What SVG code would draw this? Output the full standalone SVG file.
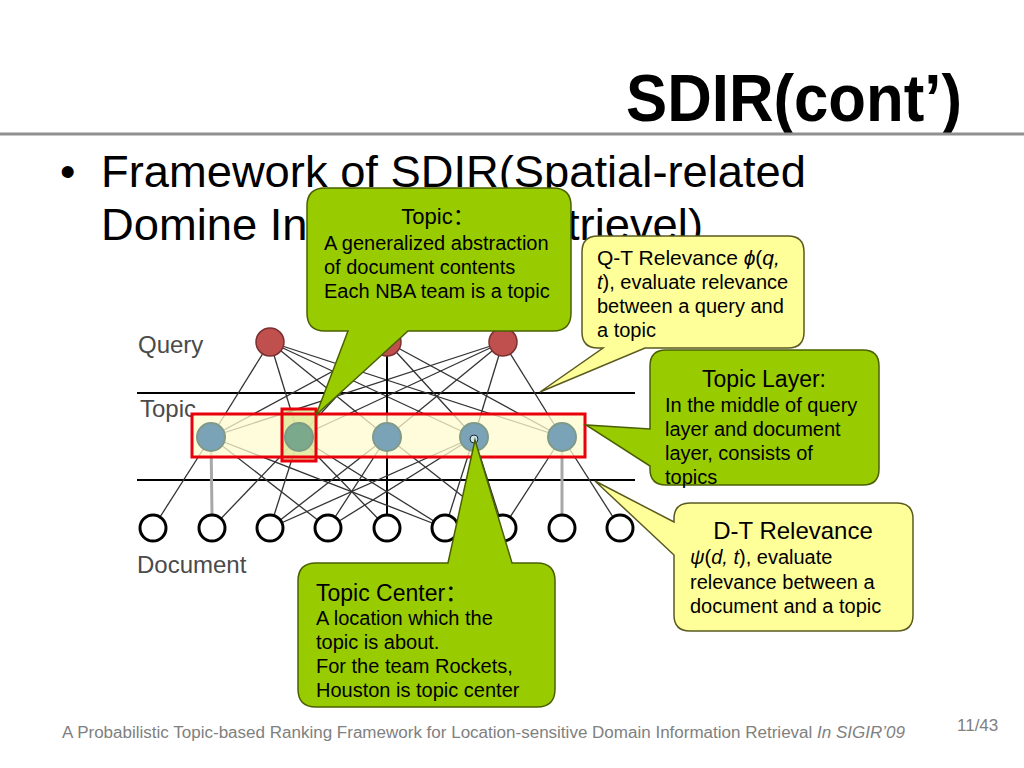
<svg xmlns="http://www.w3.org/2000/svg" width="1024" height="768" viewBox="0 0 1024 768">
<style>
text{font-family:"Liberation Sans","Noto Sans CJK SC",Arial,sans-serif;fill:#000}
.body{font-size:20px}
.lbl{font-size:24px;fill:#4a4a4a}
.e{stroke:#333;stroke-width:1.3;fill:none}
.g{stroke:#a8a8a8;stroke-width:3;fill:none}
.q{fill:#c0504d;stroke:#7a3030;stroke-width:1.5}
.t{fill:#7ba3b8;stroke:#7f9a88;stroke-width:2}
.d{fill:#fff;stroke:#000;stroke-width:3}
.green{fill:#99cc00;stroke:#4a6000;stroke-width:1.5}
.yellow{fill:#ffff99;stroke:#5a5a20;stroke-width:1.5}
.foot{font-size:16px;fill:#808080}
</style>
<rect width="1024" height="768" fill="#fff"/>

<g id="title">
<text x="962" y="121" font-size="66" font-weight="bold" text-anchor="end" textLength="336" lengthAdjust="spacingAndGlyphs">SDIR(cont’)</text>
<line x1="0" y1="134" x2="1024" y2="134" stroke="#909090" stroke-width="3"/>
</g>

<g id="bullet">
<text x="60" y="187" font-size="44">•</text>
<text x="101" y="187" font-size="44" textLength="705" lengthAdjust="spacingAndGlyphs">Framework of SDIR(Spatial-related</text>
<text x="101" y="240" font-size="44" textLength="602" lengthAdjust="spacingAndGlyphs">Domine Information Retrievel)</text>
</g>

<g id="network">
<text class="lbl" x="138" y="353">Query</text>
<text class="lbl" x="140" y="417">Topic</text>
<text class="lbl" x="137" y="573">Document</text>
<line x1="137" y1="393" x2="635" y2="393" stroke="#000" stroke-width="2"/>
<line x1="137" y1="480" x2="635" y2="480" stroke="#000" stroke-width="2"/>
<g id="connectors">
<line class="e" x1="270" y1="342" x2="211" y2="437"/>
<line class="e" x1="270" y1="342" x2="299" y2="437"/>
<line class="e" x1="270" y1="342" x2="387" y2="437"/>
<line class="e" x1="270" y1="342" x2="474" y2="437"/>
<line class="e" x1="270" y1="342" x2="562" y2="437"/>
<line class="e" x1="387" y1="342" x2="211" y2="437"/>
<line class="e" x1="387" y1="342" x2="299" y2="437"/>
<line class="e" x1="387" y1="342" x2="474" y2="437"/>
<line class="e" x1="387" y1="342" x2="562" y2="437"/>
<line class="e" x1="503" y1="342" x2="211" y2="437"/>
<line class="e" x1="503" y1="342" x2="299" y2="437"/>
<line class="e" x1="503" y1="342" x2="387" y2="437"/>
<line class="e" x1="503" y1="342" x2="474" y2="437"/>
<line class="e" x1="503" y1="342" x2="562" y2="437"/>
<line x1="387" y1="342" x2="387" y2="515" stroke="#000" stroke-width="2"/>
<line class="e" x1="211" y1="437" x2="153" y2="528"/>
<line class="e" x1="211" y1="437" x2="445" y2="528"/>
<line class="e" x1="211" y1="437" x2="328" y2="528"/>
<line class="e" x1="299" y1="437" x2="212" y2="528"/>
<line class="e" x1="299" y1="437" x2="270" y2="528"/>
<line class="e" x1="299" y1="437" x2="387" y2="528"/>
<line class="e" x1="299" y1="437" x2="445" y2="528"/>
<line class="e" x1="387" y1="437" x2="270" y2="528"/>
<line class="e" x1="387" y1="437" x2="328" y2="528"/>
<line class="e" x1="387" y1="437" x2="503" y2="528"/>
<line class="e" x1="474" y1="437" x2="270" y2="528"/>
<line class="e" x1="474" y1="437" x2="328" y2="528"/>
<line class="e" x1="474" y1="437" x2="445" y2="528"/>
<line class="e" x1="474" y1="437" x2="503" y2="528"/>
<line class="e" x1="562" y1="437" x2="503" y2="528"/>
<line class="e" x1="562" y1="437" x2="620" y2="528"/>
<line class="g" x1="211" y1="437" x2="212" y2="515"/>
<line class="g" x1="562" y1="437" x2="562" y2="515"/>
</g>
<rect x="192" y="414" width="393" height="43" fill="#fffbd0" fill-opacity="0.75"/>
<rect x="282" y="409" width="34" height="52" fill="#dfe89a" fill-opacity="0.8"/>
<g id="query-nodes">
<circle class="q" cx="270" cy="342" r="14"/>
<circle class="q" cx="387" cy="342" r="14"/>
<circle class="q" cx="503" cy="342" r="14"/>
</g>
<g id="topic-nodes">
<circle class="t" cx="211" cy="437" r="14"/>
<circle class="t" cx="299" cy="437" r="14" style="fill:#7aa98c"/>
<circle class="t" cx="387" cy="437" r="14"/>
<circle class="t" cx="474" cy="437" r="14"/>
<circle cx="474" cy="439" r="4" fill="#c8e6ee" stroke="#223" stroke-width="1"/>
<circle class="t" cx="562" cy="437" r="14"/>
</g>
<g id="doc-nodes">
<circle class="d" cx="153" cy="528" r="13"/>
<circle class="d" cx="212" cy="528" r="13"/>
<circle class="d" cx="270" cy="528" r="13"/>
<circle class="d" cx="328" cy="528" r="13"/>
<circle class="d" cx="387" cy="528" r="13"/>
<circle class="d" cx="445" cy="528" r="13"/>
<circle class="d" cx="503" cy="528" r="13"/>
<circle class="d" cx="562" cy="528" r="13"/>
<circle class="d" cx="620" cy="528" r="13"/>
</g>
<rect x="192" y="414" width="393" height="43" fill="none" stroke="#e8000a" stroke-width="3"/>
<rect x="282" y="409" width="34" height="52" fill="none" stroke="#e8000a" stroke-width="3"/>
</g>

<g id="callout-topic">
<path class="green" d="M325,188 H553 Q571,188 571,206 V313 Q571,331 553,331 H408 L316,415 L348,331 H325 Q307,331 307,313 V206 Q307,188 325,188 Z"/>
<text x="438" y="224" font-size="22" text-anchor="middle">Topic：</text>
<text class="body" x="324" y="250">A generalized abstraction</text>
<text class="body" x="324" y="274">of document contents</text>
<text class="body" x="324" y="298">Each NBA team is a topic</text>
</g>

<g id="callout-qt">
<path class="yellow" d="M598,236 H788 Q804,236 804,252 V332 Q804,348 788,348 H645 L540,392 L603,348 H598 Q582,348 582,332 V252 Q582,236 598,236 Z"/>
<text x="597" y="265" font-size="21">Q-T Relevance <tspan font-style="italic">ϕ</tspan>(<tspan font-style="italic">q,</tspan></text>
<text class="body" x="597" y="289"><tspan font-style="italic">t</tspan>), evaluate relevance</text>
<text class="body" x="597" y="313">between a query and</text>
<text class="body" x="597" y="337">a topic</text>
</g>

<g id="callout-topic-layer">
<path class="green" d="M666,350 H863 Q879,350 879,366 V469 Q879,485 863,485 H666 Q650,485 650,469 V466 L586,425 L650,429 V366 Q650,350 666,350 Z"/>
<text x="764" y="387" font-size="23" text-anchor="middle">Topic Layer:</text>
<text class="body" x="665" y="412">In the middle of query</text>
<text class="body" x="665" y="436">layer and document</text>
<text class="body" x="665" y="460">layer, consists of</text>
<text class="body" x="665" y="484">topics</text>
</g>

<g id="callout-dt">
<path class="yellow" d="M690,503 H897 Q913,503 913,519 V615 Q913,631 897,631 H690 Q674,631 674,615 V555 L595,481 L674,522 V519 Q674,503 690,503 Z"/>
<text x="793" y="539" font-size="24" text-anchor="middle">D-T Relevance</text>
<text class="body" x="690" y="564"><tspan font-style="italic">ψ</tspan>(<tspan font-style="italic">d, t</tspan>), evaluate</text>
<text class="body" x="690" y="589">relevance between a</text>
<text class="body" x="690" y="613">document and a topic</text>
</g>

<g id="callout-topic-center">
<path class="green" d="M316,563 H448 L475,440 L512,563 H537 Q555,563 555,581 V689 Q555,707 537,707 H316 Q298,707 298,689 V581 Q298,563 316,563 Z"/>
<text x="316" y="601" font-size="23">Topic Center：</text>
<text class="body" x="316" y="625">A location which the</text>
<text class="body" x="316" y="649">topic is about.</text>
<text class="body" x="316" y="673">For the team Rockets,</text>
<text class="body" x="316" y="697">Houston is topic center</text>
</g>

<g id="footer">
<text class="foot" x="62" y="738" textLength="843" lengthAdjust="spacingAndGlyphs">A Probabilistic Topic-based Ranking Framework for Location-sensitive Domain Information Retrieval <tspan font-style="italic">In SIGIR’09</tspan></text>
<text class="foot" x="957" y="731" style="font-size:17px">11/43</text>
</g>
</svg>
